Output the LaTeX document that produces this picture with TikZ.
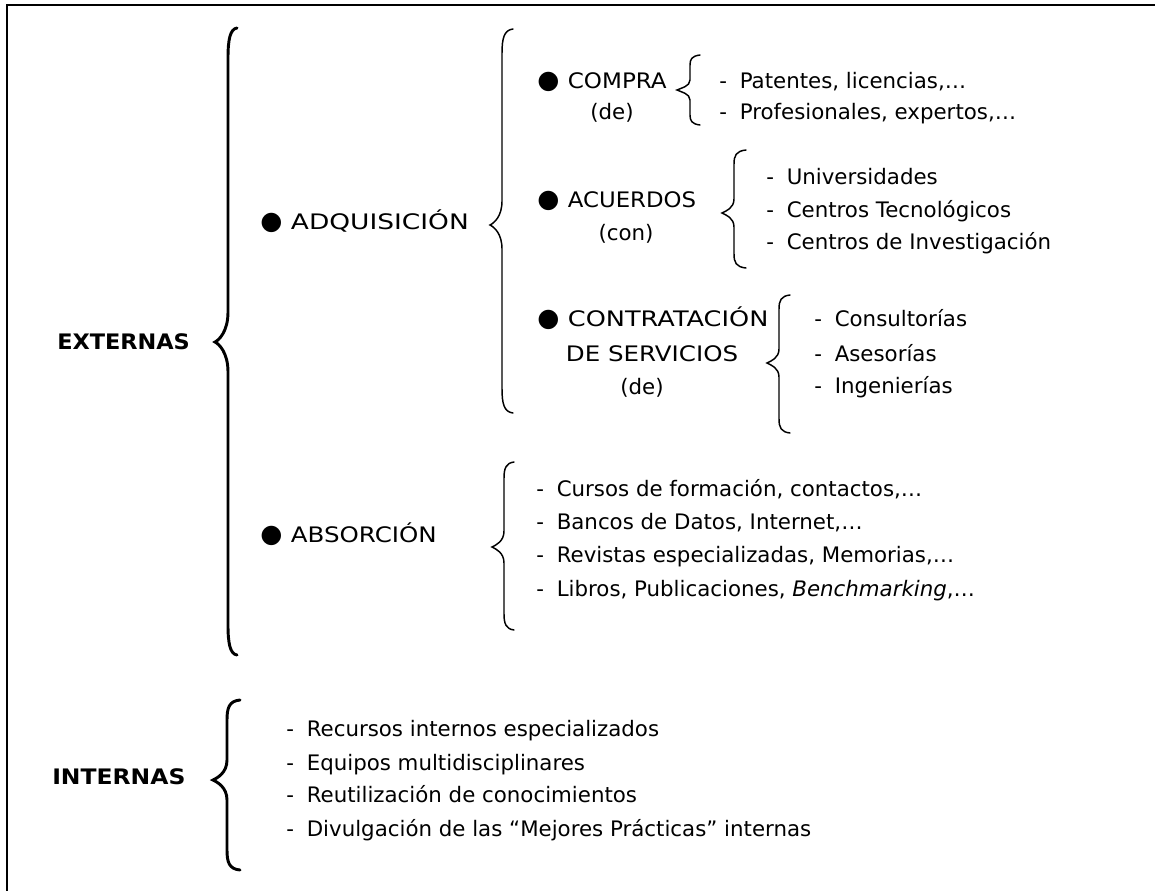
\documentclass[tikz,border=0pt]{standalone}
\usepackage{fontspec}
\usepackage{graphicx}
\setmainfont{DejaVu Sans}
% filled round bullet set a little larger than the text
\newcommand{\bul}{{\fontsize{19pt}{19pt}\selectfont ●}\hspace{0.4em}}
\newcommand{\itm}{-\hspace{0.6em}}
% capitals drawn a little wider than the body face
\newcommand{\wide}[2]{\scalebox{#1}[1]{#2}}
% curly brace: #1 style, #2 stem x, #3 top y, #4 tip y, #5 bottom y,
% #6 tip x, #7 end x, #8 curl length
\newcommand{\cbrace}[8]{%
  \draw[#1] (#7,#3) .. controls (#2+2,#3+1) and (#2,#3+0.4*#8) .. (#2,#3+#8)
    -- (#2,#4-#8) .. controls (#2,#4-0.35*#8) and (#6+4,#4-2) .. (#6,#4)
    .. controls (#6+4,#4+2) and (#2,#4+0.35*#8) .. (#2,#4+#8)
    -- (#2,#5-#8) .. controls (#2,#5-0.4*#8) and (#2+2,#5-1) .. (#7,#5);}
\begin{document}
\begin{tikzpicture}[x=0.75pt,y=-0.75pt,
  lab/.style={anchor=west,inner sep=0pt,text height=0.73em,text depth=0pt,
    font=\fontsize{16pt}{19pt}\selectfont},
  ctr/.style={lab,anchor=center},
  head/.style={lab,font=\fontsize{16pt}{19pt}\selectfont\bfseries},
  bigbrace/.style={line width=2.2pt,line cap=round},
  smallbrace/.style={line width=1.1pt,line cap=round}]
\useasboundingbox (0,0) rectangle (1155,890);
\clip (0,0) rectangle (1155,890);
% outer frame
\draw[line width=1.5pt] (7,5) rectangle (1200,950);

% ---- EXTERNAS ----
\node[head] (ext) at (57,345) {\wide{1.05}{EXTERNAS}};
\cbrace{bigbrace}{228}{28}{342}{655}{215}{237}{30}

\node[lab] (adq) at (260,225) {\bul\wide{1.24}{ADQUISICIÓN}};
\cbrace{smallbrace}{502}{29}{225}{413}{490}{513}{24}

\node[lab] (compra) at (537,84) {\bul\wide{1.08}{COMPRA}};
\node[ctr] (compraDe) at (612,115) {(de)};
\cbrace{smallbrace}{690}{55}{90}{125}{677}{700}{10}
\node[lab] (pat) at (719,84) {\itm Patentes, licencias,…};
\node[lab] (prof) at (719,115) {\itm Profesionales, expertos,…};

\node[lab] (acu) at (537,203) {\bul\wide{1.07}{ACUERDOS}};
\node[ctr] (acuCon) at (626,236) {(con)};
\cbrace{smallbrace}{734}{150}{213}{268}{722}{746}{14}
\node[lab] (univ) at (766,180) {\itm Universidades};
\node[lab] (ctec) at (766,213) {\itm Centros Tecnológicos};
\node[lab] (cinv) at (766,245) {\itm Centros de Investigación};

\node[lab] (cont) at (537,322) {\bul\wide{1.2}{CONTRATACIÓN}};
\node[ctr] (serv) at (652,357) {\wide{1.15}{DE SERVICIOS}};
\node[ctr] (contDe) at (642,390) {(de)};
\cbrace{smallbrace}{779}{295}{363}{433}{767}{790}{14}
\node[lab] (cons) at (814,322) {\itm Consultorías};
\node[lab] (ases) at (814,357) {\itm Asesorías};
\node[lab] (ing) at (814,389) {\itm Ingenierías};

\node[lab] (abs) at (260,538) {\bul\wide{1.15}{ABSORCIÓN}};
\cbrace{smallbrace}{504}{462}{547}{630}{492}{514}{16}
\node[lab] (cur) at (536,492) {\itm Cursos de formación, contactos,…};
\node[lab] (ban) at (536,525) {\itm Bancos de Datos, Internet,…};
\node[lab] (rev) at (536,558) {\itm Revistas especializadas, Memorias,…};
\node[lab] (lib) at (536,592) {\itm Libros, Publicaciones, \textit{Benchmarking},…};

% ---- INTERNAS ----
\node[head] (int) at (52,780) {\wide{1.1}{INTERNAS}};
\cbrace{bigbrace}{227}{700}{780}{870}{213}{240}{20}
\node[lab] (rec) at (286,732) {\itm Recursos internos especializados};
\node[lab] (equ) at (286,766) {\itm Equipos multidisciplinares};
\node[lab] (reu) at (286,798) {\itm Reutilización de conocimientos};
\node[lab] (div) at (286,832) {\itm Divulgación de las “Mejores Prácticas” internas};
\end{tikzpicture}
\end{document}
